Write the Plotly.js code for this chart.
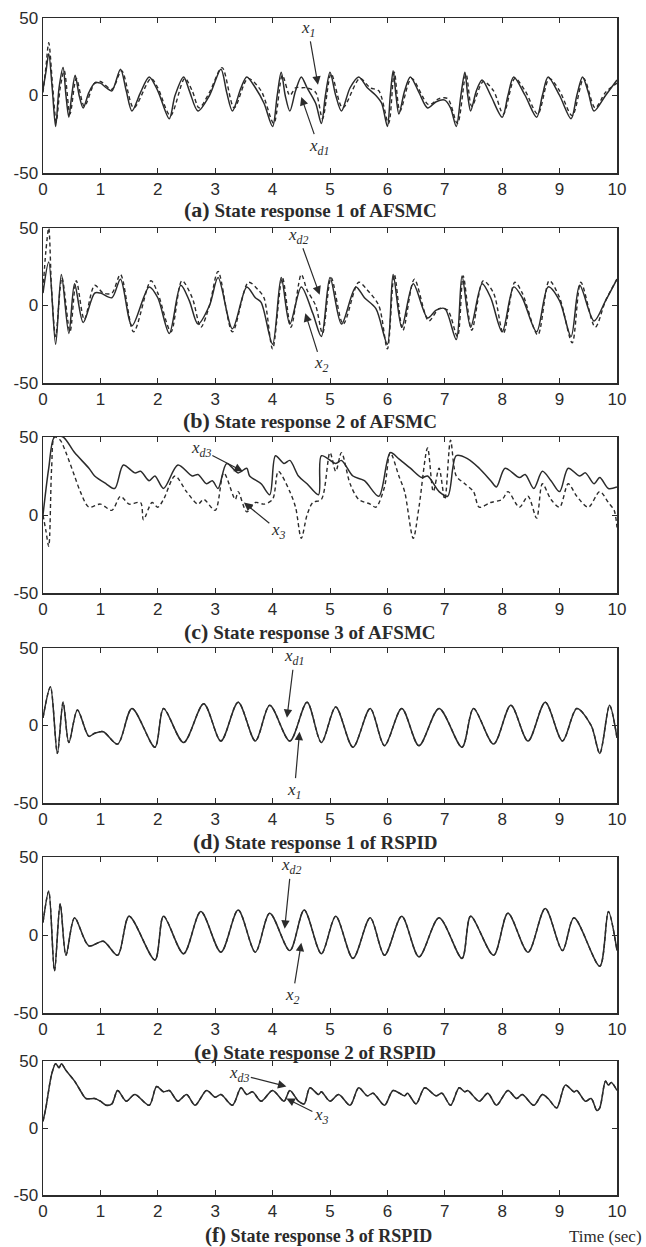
<!DOCTYPE html>
<html>
<head>
<meta charset="utf-8">
<script src="https://cdn.plot.ly/plotly-3.0.1.min.js"></script>
<style>html,body{margin:0;padding:0;background:#fff;}#chart{width:646px;height:1247px;}</style>
</head>
<body>
<div id="chart"></div>
<script>
// ---------- data (time in s, state value) ----------
// (a) AFSMC state 1
const tA_x = [0,0.05,0.1,0.16,0.22,0.28,0.35,0.4,0.45,0.5,0.56,0.63,0.7,0.8,0.9,1.0,1.1,1.2,1.35,1.45,1.55,1.7,1.85,2.0,2.2,2.3,2.45,2.55,2.7,2.9,3.1,3.2,3.3,3.45,3.55,3.7,3.85,4.0,4.08,4.15,4.22,4.3,4.4,4.5,4.6,4.75,4.85,4.92,5.0,5.1,5.2,5.35,5.5,5.65,5.8,5.9,6.0,6.05,6.1,6.15,6.2,6.3,6.4,6.55,6.7,6.85,7.0,7.1,7.2,7.28,7.35,7.4,7.45,7.55,7.65,7.8,8.0,8.1,8.2,8.4,8.6,8.7,8.8,9.0,9.2,9.3,9.4,9.5,9.6,9.8,10.0];
const A_x1 = [4,15,27,5,-20,5,18,0,-14,0,13,0,-8,2,8,8,5,3,17,3,-10,2,12,3,-15,0,12,3,-10,0,17,2,-10,5,12,5,-5,-20,0,15,0,-10,3,12,5,-5,-18,0,15,0,-10,5,12,5,0,-5,-20,0,16,0,-12,3,12,2,-8,-4,-3,-8,-20,0,15,0,-10,3,10,0,-14,0,12,0,-14,0,12,0,-15,0,12,2,-10,0,10];
const tA_d = [0,0.05,0.1,0.17,0.23,0.3,0.37,0.47,0.58,0.72,0.9,1.0,1.2,1.37,1.58,1.88,2.0,2.22,2.47,2.6,2.72,2.9,3.12,3.33,3.57,3.8,4.02,4.17,4.3,4.4,4.52,4.6,4.75,4.87,5.02,5.22,5.52,5.7,5.85,6.02,6.12,6.22,6.42,6.72,6.9,7.05,7.22,7.37,7.47,7.67,7.85,8.02,8.22,8.4,8.62,8.82,9.0,9.22,9.42,9.62,9.8,10.0];
const A_xd1 = [2,18,34,5,-17,5,16,-12,11,-7,8,9,4,16,-8,11,5,-13,11,3,-8,2,18,-8,11,3,-18,13,0,5,5,5,2,-15,14,-8,11,5,3,-18,15,-10,11,-6,-2,-2,-18,14,-7,9,3,-12,11,3,-12,11,3,-13,11,-8,2,8];

// (b) AFSMC state 2
const tB_x = [0,0.1,0.22,0.32,0.45,0.55,0.7,0.9,1.0,1.2,1.35,1.55,1.85,2.0,2.2,2.4,2.55,2.7,2.9,3.05,3.3,3.55,3.7,3.8,4.0,4.15,4.3,4.5,4.7,4.85,5.0,5.2,5.45,5.6,5.8,6.0,6.1,6.25,6.45,6.7,6.85,7.0,7.2,7.3,7.45,7.65,7.8,8.0,8.2,8.35,8.6,8.8,9.0,9.2,9.35,9.6,9.8,10.0];
const B_x2 = [8,28,-25,20,-18,14,-11,8,8,5,17,-13,12,5,-18,13,3,-12,0,18,-15,12,5,2,-25,18,-12,12,-5,-20,18,-12,12,5,-2,-25,20,-14,14,-8,-3,-2,-22,19,-14,14,5,-17,12,5,-17,12,3,-20,13,-10,3,17];
const tB_d = [0,0.05,0.1,0.15,0.22,0.33,0.47,0.58,0.72,0.9,1.05,1.2,1.35,1.58,1.88,2.0,2.23,2.42,2.6,2.75,2.9,3.05,3.3,3.58,3.75,3.85,4.0,4.17,4.32,4.5,4.6,4.75,4.87,5.02,5.23,5.5,5.65,5.85,6.0,6.12,6.27,6.47,6.72,6.9,7.05,7.22,7.32,7.47,7.67,7.85,8.02,8.22,8.35,8.62,8.82,9.0,9.22,9.37,9.62,9.8,10.0];
const B_xd2 = [10,35,50,10,-20,18,-17,16,-9,13,8,8,20,-17,16,8,-17,16,5,-14,0,22,-17,15,10,5,-28,18,-14,20,10,0,-18,18,-12,15,10,0,-28,20,-16,17,-10,-2,-3,-20,19,-16,16,8,-18,15,8,-19,16,5,-24,15,-14,3,17];

// (c) AFSMC state 3
const tC_d = [0,0.1,0.2,0.35,0.55,0.8,0.9,1.1,1.25,1.4,1.6,1.7,1.85,1.95,2.1,2.35,2.6,2.7,2.85,2.95,3.05,3.2,3.4,3.55,3.6,3.8,3.95,4.05,4.2,4.3,4.45,4.6,4.8,4.85,5.1,5.2,5.4,5.6,5.85,6.05,6.2,6.4,6.6,6.7,6.9,7.05,7.2,7.4,7.6,7.8,7.9,8.05,8.3,8.4,8.55,8.7,8.85,9.0,9.15,9.35,9.45,9.6,9.7,9.85,10.0];
const C_xd3 = [0,30,50,50,40,30,25,20,17,32,27,28,22,25,17,32,25,26,20,22,17,33,27,30,25,20,13,38,33,35,25,20,13,38,33,35,25,22,12,40,36,30,24,25,15,12,38,36,30,22,18,30,24,26,17,28,22,15,30,25,27,20,24,17,18];
const tC_x = [0,0.05,0.1,0.15,0.2,0.3,0.4,0.55,0.65,0.8,1.0,1.2,1.35,1.5,1.7,1.75,1.9,2.0,2.1,2.3,2.5,2.7,2.8,3.0,3.15,3.35,3.4,3.55,3.7,3.85,4.0,4.1,4.3,4.4,4.5,4.6,4.7,4.85,5.0,5.1,5.2,5.35,5.5,5.7,5.8,5.95,6.05,6.2,6.3,6.45,6.55,6.7,6.8,6.9,7.0,7.1,7.2,7.35,7.5,7.6,7.8,8.0,8.1,8.3,8.45,8.6,8.7,8.85,9.0,9.15,9.3,9.5,9.7,9.85,9.95,10.0];
const C_x3 = [0,-10,-20,30,50,48,40,25,15,5,7,3,12,7,8,-3,8,5,10,25,15,7,10,3,27,10,15,2,8,7,10,28,15,5,-15,0,8,10,40,28,40,20,10,7,5,18,40,25,15,-15,5,43,15,30,10,48,25,20,15,5,8,10,15,5,12,-2,20,10,5,20,12,5,15,8,3,-8];

// (d) RSPID state 1 (x1 and xd1 coincide)
const tD = [0,0.13,0.25,0.35,0.45,0.6,0.8,0.9,1.05,1.3,1.55,1.95,2.1,2.45,2.8,3.1,3.4,3.7,3.95,4.3,4.6,4.85,5.1,5.4,5.7,5.95,6.25,6.55,6.9,7.3,7.5,7.85,8.15,8.45,8.75,9.05,9.3,9.55,9.7,9.87,10.0];
const D_xd1 = [5,25,-18,15,-11,10,-7,-5,-4,-12,11,-14,11,-11,14,-10,15,-10,13,-10,15,-11,12,-14,11,-13,11,-13,11,-14,11,-12,13,-10,15,-10,11,0,-18,13,-8];
const D_x1 = D_xd1.slice();

// (e) RSPID state 2 (x2 and xd2 coincide)
const tE = [0,0.1,0.2,0.3,0.4,0.55,0.8,1.05,1.3,1.5,1.95,2.1,2.45,2.75,3.1,3.4,3.7,3.95,4.3,4.55,4.85,5.1,5.4,5.7,5.95,6.25,6.55,6.9,7.3,7.45,7.85,8.1,8.45,8.75,9.05,9.25,9.7,9.85,10.0];
const E_xd2 = [8,28,-23,20,-13,11,-7,-4,-13,12,-16,12,-12,15,-11,16,-11,14,-10,16,-12,12,-15,11,-13,12,-14,11,-15,12,-13,14,-11,17,-10,11,-20,15,-10];
const E_x2 = E_xd2.slice();

// (f) RSPID state 3 (x3 and xd3 coincide)
const tF = [0,0.05,0.15,0.22,0.28,0.32,0.4,0.55,0.65,0.75,0.9,1.0,1.1,1.2,1.3,1.45,1.6,1.85,1.98,2.1,2.2,2.35,2.5,2.65,2.85,3.0,3.1,3.3,3.45,3.55,3.65,3.8,4.0,4.2,4.3,4.45,4.55,4.65,4.8,4.85,5.0,5.15,5.35,5.5,5.65,5.75,5.95,6.1,6.3,6.35,6.5,6.65,6.85,6.95,7.1,7.25,7.35,7.4,7.6,7.75,7.9,8.1,8.25,8.35,8.55,8.7,8.8,8.95,9.1,9.25,9.3,9.45,9.55,9.65,9.7,9.8,9.85,9.9,10.0];
const F_xd3 = [5,15,40,48,45,48,43,35,28,22,22,20,17,18,28,20,25,17,31,27,28,20,25,17,28,23,25,17,30,25,27,20,28,20,28,20,18,30,25,27,20,25,17,30,24,26,17,28,24,26,18,30,24,26,17,30,27,28,20,26,17,28,22,25,17,25,22,15,32,27,28,20,22,13,15,35,32,34,28];
const F_x3 = F_xd3.slice();

// tick labels
const xTicks = [0,1,2,3,4,5,6,7,8,9,10];
const yTicks = [-50,0,50];

const panelTitles = [
  ['(a)', 'State response 1 of AFSMC'],
  ['(b)', 'State response 2 of AFSMC'],
  ['(c)', 'State response 3 of AFSMC'],
  ['(d)', 'State response 1 of RSPID'],
  ['(e)', 'State response 2 of RSPID'],
  ['(f)', 'State response 3 of RSPID']
];

// label annotations: [symbol, subscript, tipX, tipY, textX, textY]
const labels = [
  [['x','1',4.79,7,4.62,43], ['x','d1',4.5,-1,4.8,-33]],
  [['x','d2',4.82,7,4.45,45], ['x','2',4.57,-5,4.85,-38]],
  [['x','d3',3.48,28,2.75,42], ['x','3',3.5,8,4.1,-10]],
  [['x','d1',4.25,5,4.38,44], ['x','1',4.47,-4,4.38,-42]],
  [['x','d2',4.21,4,4.32,44], ['x','2',4.5,-5,4.35,-39]],
  [['x','d3',4.24,31,3.42,40], ['x','3',4.24,22,4.85,9]]
];

// ---------- build figure ----------
const W = 646, H = 1247;
const tops =    [18, 228, 437, 648, 857, 1061];
const bottoms = [173, 383, 593, 803, 1013, 1195];
const titleY =  [210, 421, 631, 841, 1051, 1235];
const titleX =  [310, 310, 310, 315, 315, 318];
const titleSize = [19, 19, 19, 19, 19, 18];
const ink = '#2b2b2b';

const series = [
  [[tA_d, A_xd1], [tA_x, A_x1]],
  [[tB_d, B_xd2], [tB_x, B_x2]],
  [[tC_x, C_x3], [tC_d, C_xd3]],
  [[tD, D_xd1], [tD, D_x1]],
  [[tE, E_xd2], [tE, E_x2]],
  [[tF, F_xd3], [tF, F_x3]]
];

const data = [];
const layout = {
  width: W, height: H,
  margin: {l: 0, r: 0, t: 0, b: 0},
  paper_bgcolor: '#fff', plot_bgcolor: '#fff',
  showlegend: false,
  annotations: [],
  font: {family: 'Liberation Sans Narrow, Liberation Sans, Arial', color: ink}
};

for (let i = 0; i < 6; i++) {
  const n = i === 0 ? '' : String(i + 1);
  const xa = 'x' + n, ya = 'y' + n;
  const [dashed, solid] = series[i];
  data.push({x: dashed[0], y: dashed[1], xaxis: xa, yaxis: ya, mode: 'lines',
    line: {color: ink, width: 1.4, dash: '4px,3px', shape: 'spline', smoothing: 0.85}, hoverinfo: 'skip'});
  data.push({x: solid[0], y: solid[1], xaxis: xa, yaxis: ya, mode: 'lines',
    line: {color: ink, width: 1.5, shape: 'spline', smoothing: 0.85}, hoverinfo: 'skip'});

  const ax = {
    domain: [43 / W, 617 / W], range: [0, 10], anchor: ya,
    tickvals: xTicks, ticktext: xTicks.map(String), ticks: 'inside', ticklen: 5,
    tickcolor: ink, tickwidth: 1, mirror: 'ticks', showline: true, linecolor: ink, linewidth: 1.5,
    showgrid: false, zeroline: false, tickfont: {size: 17, color: ink}, ticklabelstandoff: 0, fixedrange: true
  };
  const ay = {
    domain: [1 - bottoms[i] / H, 1 - tops[i] / H], range: [-50, 50], anchor: xa,
    tickvals: yTicks, ticktext: yTicks.map(String), ticks: 'inside', ticklen: 5,
    tickcolor: ink, tickwidth: 1, mirror: 'ticks', showline: true, linecolor: ink, linewidth: 1.5,
    showgrid: false, zeroline: false, tickfont: {size: 17, color: ink}, ticklabelstandoff: 0, fixedrange: true
  };
  layout['xaxis' + n] = ax;
  layout['yaxis' + n] = ay;

  // panel caption
  layout.annotations.push({
    xref: 'paper', yref: 'paper', x: titleX[i] / W, y: 1 - titleY[i] / H,
    xanchor: 'center', yanchor: 'middle', showarrow: false,
    text: '<b><span style="font-size:' + (titleSize[i] + 3) + 'px">' + panelTitles[i][0] + '</span> ' + panelTitles[i][1] + '</b>',
    font: {family: 'Liberation Serif, Times New Roman, serif', size: titleSize[i], color: ink}
  });

  // curve labels with arrows
  labels[i].forEach(l => {
    layout.annotations.push({
      xref: xa, yref: ya, axref: xa, ayref: ya,
      x: l[2], y: l[3], ax: l[4], ay: l[5],
      text: '<i>' + l[0] + '<sub>' + l[1] + '</sub></i>',
      showarrow: true, arrowhead: 2, arrowsize: 1.4, arrowwidth: 1.2, arrowcolor: ink, standoff: 0,
      font: {family: 'Liberation Serif, Times New Roman, serif', size: 17, color: ink}
    });
  });
}

layout.annotations.push({
  xref: 'paper', yref: 'paper', x: 644 / W, y: 1 - 1236 / H, xanchor: 'right', yanchor: 'middle',
  showarrow: false, text: 'Time (sec)',
  font: {family: 'Liberation Serif, Times New Roman, serif', size: 17, color: ink}
});

Plotly.newPlot('chart', data, layout, {staticPlot: true, displayModeBar: false});
</script>
</body>
</html>
